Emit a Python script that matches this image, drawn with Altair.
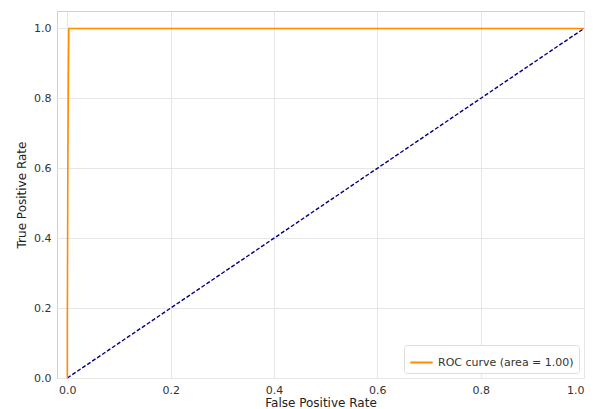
import altair as alt
import pandas as pd

# ROC curve points
fpr = [0.0, 0.0, 0.001, 0.002, 0.003, 0.5, 1.0]
tpr = [0.0, 0.15, 0.6, 0.87, 1.0, 1.0, 1.0]
label = "ROC curve (area = 1.00)"

diag_x = [0.0, 1.0]
diag_y = [0.0, 1.0]

ticks = [0.0, 0.2, 0.4, 0.6, 0.8, 1.0]

roc = pd.DataFrame({"fpr": fpr, "tpr": tpr, "series": [label] * len(fpr), "order": list(range(len(fpr)))})
diag = pd.DataFrame({"fpr": diag_x, "tpr": diag_y})

font = "DejaVu Sans"

x_enc = alt.X("fpr:Q", scale=alt.Scale(domain=[-0.02, 1.0], nice=False, zero=False),
              axis=alt.Axis(title="False Positive Rate", values=ticks, format=".1f"))
y_enc = alt.Y("tpr:Q", scale=alt.Scale(domain=[0.0, 1.05], nice=False),
              axis=alt.Axis(title="True Positive Rate", values=ticks, format=".1f"))

roc_line = alt.Chart(roc).mark_line(strokeWidth=1.6, clip=True).encode(
    x=x_enc, y=y_enc, order="order:Q",
    color=alt.Color("series:N", scale=alt.Scale(domain=[label], range=["#ff8c00"]),
                    legend=alt.Legend(title=None, orient="bottom-right", offset=5,
                                      symbolType="stroke", symbolStrokeWidth=2, symbolSize=500,
                                      labelFontSize=11, labelFont=font, labelColor="#333333",
                                      strokeColor="#dddddd", fillColor="white", cornerRadius=3,
                                      padding=5))
)

diag_line = alt.Chart(diag).mark_line(color="#000080", strokeWidth=1.4, strokeDash=[4, 2]).encode(
    x="fpr:Q", y="tpr:Q"
)

chart = alt.layer(diag_line, roc_line).properties(
    width=527, height=367,
    padding={"left": 49, "top": 3, "right": 6, "bottom": 30},
    autosize=alt.AutoSizeParams(type="none"),
).configure_view(stroke="#d0d0d0", strokeWidth=1).configure_axis(
    domain=False, ticks=False, grid=True, gridColor="#e6e6e6", gridWidth=1,
    labelFont=font, labelFontSize=11, labelColor="#333333", labelPadding=6,
    titleFont=font, titleFontSize=12, titleColor="#222222", titleFontWeight="normal",
).configure_axisX(titlePadding=2).configure_axisY(titlePadding=5)

chart.save("out.html", embed_options={"renderer": "svg", "actions": False})
